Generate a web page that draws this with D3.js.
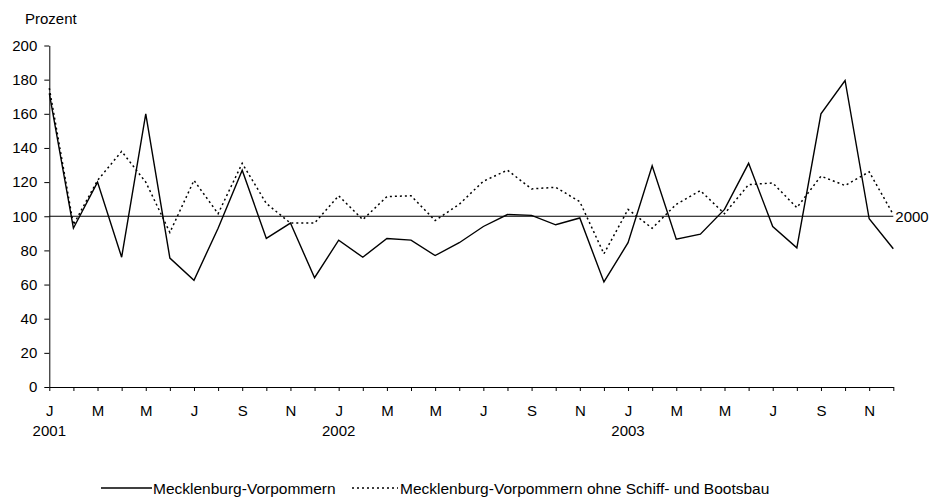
<!DOCTYPE html>
<html>
<head>
<meta charset="utf-8">
<script src="https://cdn.jsdelivr.net/npm/d3@7"></script>
<style>
  body { margin: 0; background: #fff; }
  svg text { font-family: "Liberation Sans", Arial, sans-serif; fill: #000; font-size: 15px; }
</style>
</head>
<body>
<script>
// month labels shown on every second tick
var monthLabels = ["J", "M", "M", "J", "S", "N"]
var years = ["2001", "2002", "2003"]

// Mecklenburg-Vorpommern, Jan 2001 .. Dez 2003 (Prozent, 2000 = 100)
var mv = [172, 93, 120, 76, 160, 75.5, 62.5, 93, 127, 87, 96, 64,
          86, 76, 87, 86, 77, 84.5, 94, 101, 100.5, 95, 99, 61.5,
          84.5, 129.5, 86.5, 89.5, 104, 131, 94, 81.5, 160, 179.5, 98.5, 81]

// ohne Schiff- und Bootsbau
var mvOhne = [175, 95, 121, 138, 120, 90.5, 121, 101.5, 131, 107.5, 96, 96,
              112, 98, 111.5, 112, 97.5, 107, 120.5, 127, 116, 117, 108.5, 78,
              104, 93, 107, 115, 101.5, 118.5, 119.5, 105, 123.5, 118, 126, 101]

var seriesNames = ["Mecklenburg-Vorpommern", "Mecklenburg-Vorpommern ohne Schiff- und Bootsbau"]
var baseValue = 100
var yTicks = [0, 20, 40, 60, 80, 100, 120, 140, 160, 180, 200]

var width = 931, height = 500

var svg = d3.select("body").append("svg")
    .attr("width", width)
    .attr("height", height)

var x = d3.scaleLinear().domain([0, mv.length - 1]).range([49.3, 893.3])
var y = d3.scaleLinear().domain([0, 200]).range([387, 45.5])

// y axis
var yAxis = d3.axisLeft(y)
    .tickValues(yTicks)
    .tickSize(5)
    .tickSizeOuter(0)
    .tickPadding(7)

var gy = svg.append("g")
    .attr("transform", "translate(" + x(0) + ",0)")
    .call(yAxis)
gy.selectAll("line, path").attr("stroke", "#000")

// x axis, one tick per month
var xAxis = d3.axisBottom(x)
    .tickValues(d3.range(mv.length))
    .tickSize(4)
    .tickSizeOuter(0)
    .tickPadding(14)
    .tickFormat(function (d) {
        return d % 2 == 0 ? monthLabels[(d % 12) / 2] : ""
    })

var gx = svg.append("g")
    .attr("transform", "translate(0," + y(0) + ")")
    .call(xAxis)
gx.selectAll("line, path").attr("stroke", "#000")
svg.selectAll("g").attr("font-family", null).attr("font-size", null)

// years under each January
svg.selectAll(".year")
    .data(years)
    .enter().append("text")
    .attr("class", "year")
    .attr("x", function (d, i) { return x(i * 12) })
    .attr("y", 435.5)
    .attr("text-anchor", "middle")
    .text(function (d) { return d })

svg.append("text")
    .attr("x", 25)
    .attr("y", 24)
    .text("Prozent")

// reference line 2000 = 100
svg.append("line")
    .attr("x1", x(0)).attr("x2", x(mv.length - 1))
    .attr("y1", y(baseValue)).attr("y2", y(baseValue))
    .attr("stroke", "#000")
    .attr("stroke-width", 1)

svg.append("text")
    .attr("x", x(mv.length - 1) + 2)
    .attr("y", y(baseValue))
    .attr("dy", "0.36em")
    .text("2000")

var line = d3.line()
    .x(function (d, i) { return x(i) })
    .y(function (d) { return y(d) })

svg.append("path")
    .attr("d", line(mvOhne))
    .attr("fill", "none")
    .attr("stroke", "#000")
    .attr("stroke-width", 1.5)
    .attr("stroke-dasharray", "2,3")

svg.append("path")
    .attr("d", line(mv))
    .attr("fill", "none")
    .attr("stroke", "#000")
    .attr("stroke-width", 1.4)

// legend
var legend = svg.append("g").attr("transform", "translate(0,488)")
legend.append("line")
    .attr("x1", 101).attr("x2", 152)
    .attr("stroke", "#000").attr("stroke-width", 1.4)
legend.append("text")
    .attr("x", 153).attr("y", 5.5)
    .style("font-size", "15.5px")
    .text(seriesNames[0])
legend.append("line")
    .attr("x1", 352).attr("x2", 398)
    .attr("stroke", "#000").attr("stroke-width", 1.5)
    .attr("stroke-dasharray", "2,3")
legend.append("text")
    .attr("x", 400).attr("y", 5.5)
    .style("font-size", "15.5px")
    .text(seriesNames[1])
</script>
</body>
</html>
